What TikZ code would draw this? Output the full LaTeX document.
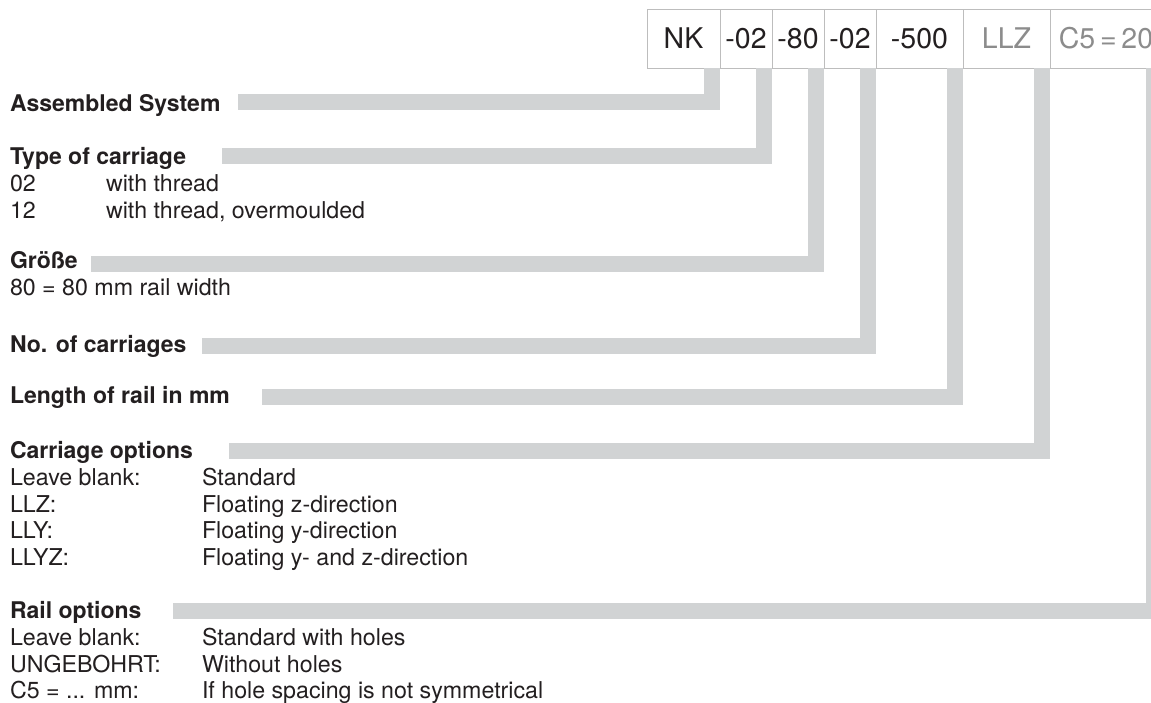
\documentclass[tikz,border=0pt]{standalone}
\usepackage{fontspec}
\setmainfont{TeX Gyre Heros}
\definecolor{txt}{HTML}{231F20}
\definecolor{barc}{HTML}{D1D3D4}
\definecolor{boxline}{HTML}{BDBDBD}
\definecolor{graytxt}{HTML}{8C8C8C}
\begin{document}
\begin{tikzpicture}[x=1pt,y=-1pt,
  lbl/.style={anchor=base west,inner sep=0pt,outer sep=0pt,font=\fontsize{23.2}{27}\selectfont,text=txt},
  head/.style={anchor=base west,inner sep=0pt,outer sep=0pt,font=\fontsize{23}{27}\selectfont\bfseries,text=txt},
  cell/.style={draw=boxline,line width=1pt,minimum height=59pt,inner sep=0pt,outer sep=0pt,anchor=north west,font=\fontsize{28.5}{30}\selectfont,text=txt},
  graycell/.style={cell,text=graytxt},
  bar/.style={draw=barc,line width=16pt,line join=miter}]
\useasboundingbox (0,0) rectangle (1151,702);
\clip (0,0) rectangle (1151,702);

% code boxes
\node[cell,minimum width=73pt] (b1) at (647,9) {NK};
\node[cell,minimum width=52pt] (b2) at (720,9) {-02};
\node[cell,minimum width=52pt] (b3) at (772,9) {-80};
\node[cell,minimum width=52pt] (b4) at (824,9) {-02};
\node[cell,minimum width=87pt] (b5) at (876,9) {-500};
\node[graycell,minimum width=87pt] (b6) at (963,9) {LLZ};
\node[graycell,minimum width=112pt] (b7) at (1050,9) {C5\,=\,20};

% labels
\node[head] (h1) at (10,111) {Assembled System};
\node[head] (h2) at (10,164) {Type of carriage};
\node[lbl] (t21) at (10,191) {02};
\node[lbl] (t22) at (106,191) {with thread};
\node[lbl] (t23) at (10,218) {12};
\node[lbl] (t24) at (106,218) {with thread, overmoulded};
\node[head] (h3) at (10,268) {Größe};
\node[lbl] (t31) at (10,295) {80 = 80 mm rail width};
\node[head] (h4) at (10,352) {No. of carriages};
\node[head] (h5) at (10,403) {Length of rail in mm};
\node[head] (h6) at (10,458) {Carriage options};
\node[lbl] (t61) at (10,485) {Leave blank:};
\node[lbl] (t62) at (202,485) {Standard};
\node[lbl] (t63) at (10,512) {LLZ:};
\node[lbl] (t64) at (202,512) {Floating z-direction};
\node[lbl] (t65) at (10,538) {LLY:};
\node[lbl] (t66) at (202,538) {Floating y-direction};
\node[lbl] (t67) at (10,565) {LLYZ:};
\node[lbl] (t68) at (202,565) {Floating y- and z-direction};
\node[head] (h7) at (10,618) {Rail options};
\node[lbl] (t71) at (10,645) {Leave blank:};
\node[lbl] (t72) at (202,645) {Standard with holes};
\node[lbl] (t73) at (10,672) {UNGEBOHRT:};
\node[lbl] (t74) at (202,672) {Without holes};
\node[lbl] (t75) at (10,698) {C5 = ... mm:};
\node[lbl] (t76) at (202,698) {If hole spacing is not symmetrical};

% bar start points
\coordinate (s1) at (238,102);
\coordinate (s2) at (222,155.5);
\coordinate (s3) at (91,264);
\coordinate (s4) at (202,346);
\coordinate (s5) at (262,397);
\coordinate (s6) at (229,451);
\coordinate (s7) at (173,610.5);

% connector bars
\draw[bar] (s1) -| ([xshift=-8pt]b1.south east);
\draw[bar] (s2) -| ([xshift=-8pt]b2.south east);
\draw[bar] (s3) -| ([xshift=-8pt]b3.south east);
\draw[bar] (s4) -| ([xshift=-8pt]b4.south east);
\draw[bar] (s5) -| ([xshift=-8pt]b5.south east);
\draw[bar] (s6) -| ([xshift=-8pt]b6.south east);
\draw[bar] (s7) -| ([xshift=-8pt]b7.south east);
\end{tikzpicture}
\end{document}
